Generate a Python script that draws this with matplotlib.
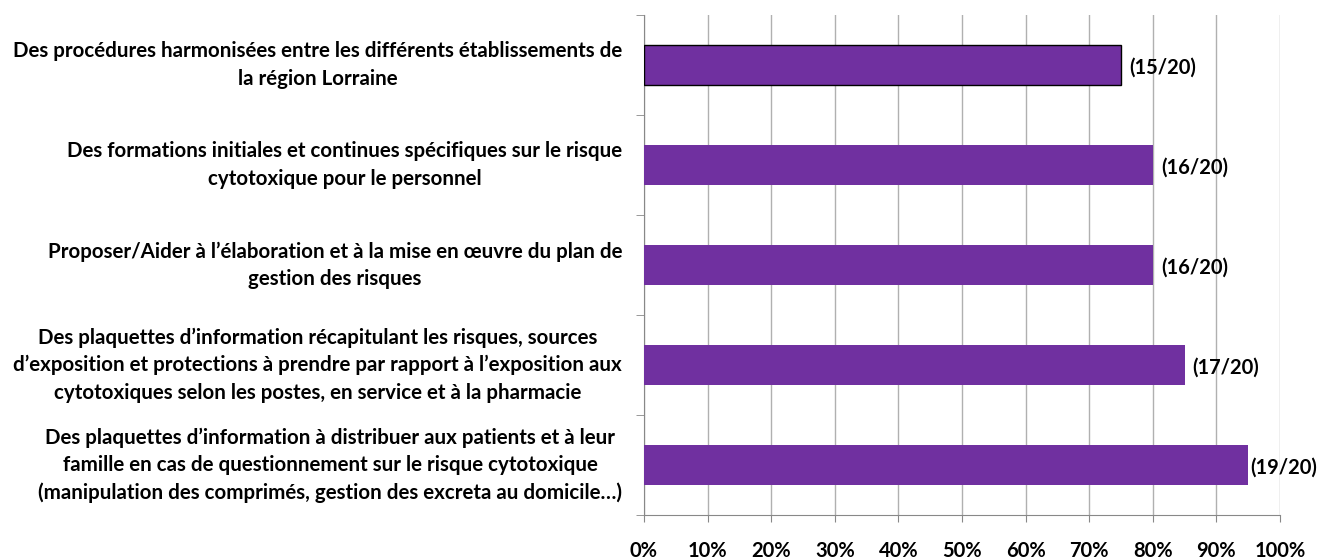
import matplotlib
matplotlib.use("Agg")
import matplotlib.pyplot as plt
import numpy as np

categories = [
    "Des procédures harmonisées entre les différents établissements de\nla région Lorraine",
    "Des formations initiales et continues spécifiques sur le risque\ncytotoxique pour le personnel",
    "Proposer/Aider à l’élaboration et à la mise en œuvre du plan de\ngestion des risques",
    "Des plaquettes d’information récapitulant les risques, sources\nd’exposition et protections à prendre par rapport à l’exposition aux\ncytotoxiques selon les postes, en service et à la pharmacie",
    "Des plaquettes d’information à distribuer aux patients et à leur\nfamille en cas de questionnement sur le risque cytotoxique\n(manipulation des comprimés, gestion des excreta au domicile…)",
]
values = [75, 80, 80, 85, 95]
bar_labels = ["(15/20)", "(16/20)", "(16/20)", "(17/20)", "(19/20)"]
xticks = [0, 10, 20, 30, 40, 50, 60, 70, 80, 90, 100]
xticklabels = [f"{v}%" for v in xticks]

plt.rcParams['font.family'] = ['Lato', 'DejaVu Sans']

fig = plt.figure(figsize=(13.2, 5.6), dpi=100)
ax = fig.add_axes([644/1320, 1-515/560, (1280-644)/1320, 500/560])

y = np.arange(len(categories))
purple = "#7030A0"
bars = ax.barh(y, values, height=0.4, color=purple, zorder=3)
bars[0].set_edgecolor("black")
bars[0].set_linewidth(1.0)

ax.set_xlim(0, 100)
ax.set_ylim(len(categories) - 0.5, -0.5)
ax.set_xticks(xticks)
ax.set_xticklabels(xticklabels, fontsize=14.5, fontweight='bold')
ax.tick_params(axis='x', length=5, color='#888888', pad=14)
ax.grid(axis='x', color='#b0b0b0', linewidth=1, zorder=0)

ax.set_yticks([])
ax.set_yticks(np.arange(-0.5, len(categories) + 0.5, 1), minor=True)
ax.tick_params(axis='y', which='minor', length=6, color='#888888')
ax.set_yticklabels([], minor=True)

for s in ['top', 'right']:
    ax.spines[s].set_visible(False)
for s in ['left', 'bottom']:
    ax.spines[s].set_color('#888888')

for yi, cat in zip(y, categories):
    ax.annotate(cat, xy=(0, yi), xycoords=('axes fraction', 'data'),
                xytext=(-22, 0), textcoords='offset pixels',
                ha='right', va='center', multialignment='center',
                fontsize=14.8, fontweight='bold', linespacing=1.45)

for yi, v, lab in zip(y, values, bar_labels):
    off = 2 if v >= 90 else 8
    ax.annotate(lab, xy=(v, yi), xytext=(off, -3), textcoords='offset pixels',
                ha='left', va='center', fontsize=14.5, fontweight='bold',
                annotation_clip=False)

fig.savefig("out.png", dpi=100)
